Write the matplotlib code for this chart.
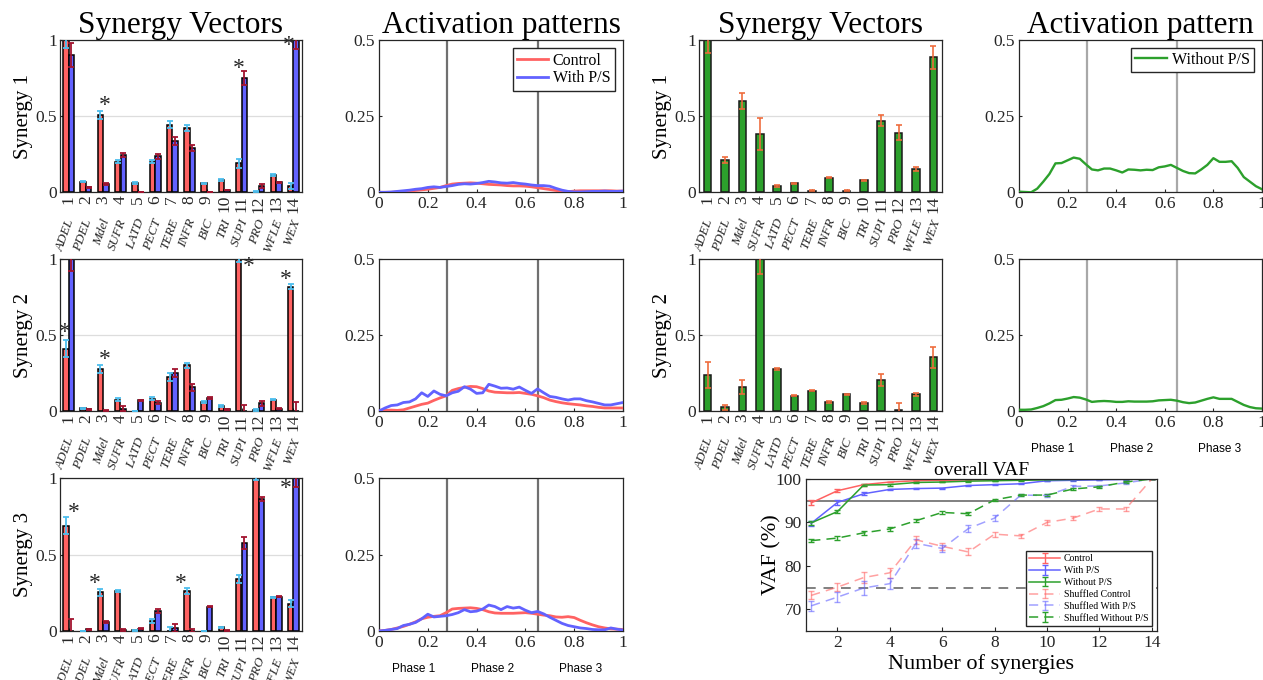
import numpy as np
import matplotlib
matplotlib.use('Agg')
import matplotlib.pyplot as plt
from matplotlib import transforms

plt.rcParams['font.family'] = ['Liberation Serif', 'DejaVu Serif']
plt.rcParams['axes.edgecolor'] = '#262626'
plt.rcParams['axes.linewidth'] = 0.9
plt.rcParams['xtick.direction'] = 'in'
plt.rcParams['ytick.direction'] = 'in'
plt.rcParams['xtick.color'] = '#262626'
plt.rcParams['ytick.color'] = '#262626'

# ---------------- data ----------------
muscles = ['ADEL', 'PDEL', 'Mdel', 'SUFR', 'LATD', 'PECT', 'TERE', 'INFR',
           'BIC', 'TRI', 'SUPI', 'PRO', 'WFLE', 'WEX']
muscle_ids = list(range(1, 15))

# Control vs With P/S synergy vectors (mean, error)
ctrl_w1 = [1.00, 0.07, 0.51, 0.20, 0.06, 0.20, 0.445, 0.42, 0.06, 0.08, 0.19, 0.005, 0.115, 0.04]
ctrl_e1 = [0.05, 0.005, 0.027, 0.01, 0.005, 0.01, 0.02, 0.02, 0.004, 0.005, 0.03, 0.005, 0.008, 0.018]
ps_w1 = [0.90, 0.033, 0.055, 0.245, 0.002, 0.236, 0.335, 0.29, 0.002, 0.015, 0.75, 0.04, 0.065, 1.00]
ps_e1 = [0.08, 0.004, 0.004, 0.015, 0.002, 0.015, 0.025, 0.02, 0.002, 0.003, 0.045, 0.015, 0.005, 0.06]

ctrl_w2 = [0.41, 0.018, 0.275, 0.075, 0.0, 0.08, 0.225, 0.30, 0.06, 0.035, 1.00, 0.005, 0.075, 0.82]
ctrl_e2 = [0.055, 0.004, 0.025, 0.008, 0.002, 0.01, 0.025, 0.018, 0.004, 0.006, 0.02, 0.005, 0.005, 0.015]
ps_w2 = [1.00, 0.01, 0.003, 0.015, 0.07, 0.055, 0.25, 0.155, 0.085, 0.012, 0.0, 0.05, 0.015, 0.0]
ps_e2 = [0.08, 0.003, 0.003, 0.015, 0.004, 0.012, 0.025, 0.02, 0.004, 0.004, 0.04, 0.015, 0.004, 0.06]

ctrl_w3 = [0.69, 0.0, 0.253, 0.262, 0.005, 0.066, 0.0, 0.262, 0.0, 0.025, 0.34, 1.00, 0.22, 0.18]
ctrl_e3 = [0.055, 0.002, 0.025, 0.008, 0.004, 0.012, 0.025, 0.018, 0.002, 0.004, 0.025, 0.01, 0.005, 0.02]
ps_w3 = [0.0, 0.01, 0.06, 0.005, 0.015, 0.13, 0.02, 0.003, 0.16, 0.002, 0.575, 0.865, 0.225, 1.00]
ps_e3 = [0.08, 0.003, 0.005, 0.008, 0.004, 0.012, 0.025, 0.012, 0.003, 0.002, 0.04, 0.015, 0.004, 0.06]

# significance stars: (muscle, height, x-offset)
stars1 = [(3, 0.57, 0.07), (11, 0.815, -0.13), (14, 0.965, -0.29)]
stars2 = [(1, 0.515, -0.23), (3, 0.34, 0.09), (11, 0.955, 0.40), (14, 0.865, -0.44)]
stars3 = [(1, 0.775, 0.27), (3, 0.31, -0.50), (8, 0.31, -0.53), (14, 0.935, -0.44)]

# Without P/S synergy vectors
wo_w1 = [1.00, 0.21, 0.60, 0.38, 0.042, 0.059, 0.011, 0.096, 0.01, 0.079, 0.47, 0.392, 0.151, 0.886]
wo_e1 = [0.085, 0.02, 0.05, 0.105, 0.008, 0.004, 0.003, 0.005, 0.003, 0.004, 0.035, 0.05, 0.012, 0.075]
wo_w2 = [0.235, 0.024, 0.16, 1.00, 0.279, 0.10, 0.134, 0.059, 0.11, 0.053, 0.202, 0.005, 0.11, 0.354]
wo_e2 = [0.085, 0.015, 0.045, 0.10, 0.006, 0.004, 0.004, 0.004, 0.004, 0.004, 0.04, 0.045, 0.01, 0.07]

# Activation patterns (normalized cycle time)
cycle = np.linspace(0, 1, 41)
act_ctrl1 = [0, 0, 0, 0.001, 0.002, 0.004, 0.006, 0.008, 0.010, 0.013, 0.016, 0.022, 0.027, 0.029,
             0.030, 0.031, 0.030, 0.028, 0.026, 0.025, 0.024, 0.022, 0.021, 0.021, 0.020, 0.018,
             0.015, 0.012, 0.009, 0.006, 0.003, 0.002, 0.004, 0.005, 0.005, 0.005, 0.005, 0.005,
             0.005, 0.004, 0.004]
act_ps1 = [0, 0, 0.001, 0.003, 0.005, 0.007, 0.010, 0.012, 0.016, 0.018, 0.016, 0.019, 0.022, 0.026,
           0.028, 0.027, 0.029, 0.032, 0.036, 0.034, 0.031, 0.030, 0.032, 0.029, 0.027, 0.024,
           0.022, 0.022, 0.020, 0.013, 0.007, 0.003, 0.001, 0.001, 0.002, 0.003, 0.003, 0.004,
           0.003, 0.003, 0.004]
act_ctrl2 = [0, 0.002, 0.003, 0.002, 0.004, 0.010, 0.016, 0.022, 0.026, 0.035, 0.043, 0.050, 0.068,
             0.074, 0.078, 0.081, 0.080, 0.074, 0.066, 0.062, 0.061, 0.060, 0.060, 0.061, 0.058,
             0.055, 0.050, 0.044, 0.036, 0.031, 0.027, 0.024, 0.022, 0.020, 0.017, 0.015, 0.012,
             0.010, 0.010, 0.010, 0.010]
act_ps2 = [0, 0.010, 0.018, 0.020, 0.028, 0.030, 0.040, 0.060, 0.048, 0.066, 0.055, 0.050, 0.060,
           0.065, 0.080, 0.072, 0.058, 0.060, 0.088, 0.082, 0.075, 0.076, 0.072, 0.079, 0.068,
           0.058, 0.073, 0.060, 0.048, 0.045, 0.040, 0.036, 0.040, 0.040, 0.034, 0.030, 0.025,
           0.020, 0.020, 0.024, 0.028]
act_ctrl3 = [0, 0.002, 0.005, 0.010, 0.015, 0.022, 0.030, 0.040, 0.045, 0.048, 0.050, 0.060, 0.072,
             0.074, 0.075, 0.076, 0.074, 0.070, 0.063, 0.059, 0.058, 0.058, 0.058, 0.059, 0.060,
             0.058, 0.055, 0.052, 0.050, 0.046, 0.045, 0.047, 0.044, 0.035, 0.027, 0.020, 0.014,
             0.010, 0.007, 0.006, 0.005]
act_ps3 = [0, 0.002, 0.005, 0.008, 0.018, 0.022, 0.028, 0.040, 0.055, 0.046, 0.048, 0.050, 0.054,
           0.060, 0.070, 0.063, 0.065, 0.072, 0.085, 0.080, 0.070, 0.080, 0.075, 0.078, 0.068,
           0.060, 0.064, 0.056, 0.045, 0.035, 0.025, 0.018, 0.014, 0.010, 0.008, 0.005, 0.004,
           0.004, 0.010, 0.006, 0.003]
act_wo1 = [0.002, 0.001, 0, 0.012, 0.035, 0.060, 0.095, 0.096, 0.105, 0.114, 0.110, 0.092, 0.075,
           0.072, 0.078, 0.078, 0.072, 0.065, 0.075, 0.074, 0.072, 0.074, 0.073, 0.082, 0.085,
           0.090, 0.080, 0.070, 0.063, 0.062, 0.075, 0.090, 0.112, 0.100, 0.100, 0.102, 0.080,
           0.050, 0.035, 0.020, 0.010]
act_wo2 = [0.004, 0.004, 0.005, 0.010, 0.016, 0.025, 0.036, 0.037, 0.041, 0.046, 0.044, 0.038, 0.030,
           0.032, 0.033, 0.032, 0.030, 0.030, 0.032, 0.031, 0.031, 0.031, 0.032, 0.035, 0.036,
           0.037, 0.034, 0.029, 0.026, 0.028, 0.034, 0.040, 0.045, 0.040, 0.040, 0.040, 0.030,
           0.020, 0.013, 0.009, 0.008]
phase_bounds = [0.28, 0.65]
phase_names = ['Phase 1', 'Phase 2', 'Phase 3']

# Overall VAF
n_syn = list(range(1, 15))
vaf_ctrl = [94.5, 97.3, 98.7, 99.3, 99.6, 99.7, 99.8, 99.85, 99.9, 99.95, 100, 100, 100, 100]
vaf_ctrl_e = [0.6, 0.3, 0.2, 0.1, 0.1, 0.1, 0.05, 0.05, 0.05, 0.05, 0.02, 0.02, 0.02, 0]
vaf_ps = [89.8, 94.6, 96.6, 97.6, 97.8, 97.9, 98.5, 98.7, 98.9, 99.6, 99.7, 99.8, 99.9, 100]
vaf_ps_e = [0.6, 0.5, 0.3, 0.2, 0.15, 0.1, 0.1, 0.1, 0.1, 0.05, 0.05, 0.05, 0.05, 0]
vaf_wo = [89.9, 92.5, 98.6, 98.7, 99.2, 99.3, 99.5, 99.6, 99.7, 99.8, 99.9, 99.95, 100, 100]
vaf_wo_e = [0.5, 0.3, 0.2, 0.2, 0.1, 0.1, 0.1, 0.05, 0.05, 0.05, 0.05, 0.02, 0.02, 0]
vaf_sh_ctrl = [73.2, 75.1, 77.3, 78.4, 86.0, 84.5, 83.2, 87.3, 86.9, 90.0, 91.0, 93.1, 93.1, 100]
vaf_sh_ctrl_e = [0.9, 1.0, 1.3, 1.2, 0.9, 0.8, 0.8, 0.6, 0.5, 0.5, 0.5, 0.4, 0.4, 0]
vaf_sh_ps = [70.8, 72.8, 74.9, 75.9, 85.2, 84.0, 88.6, 91.0, 96.3, 96.2, 98.3, 98.4, 99.1, 100]
vaf_sh_ps_e = [1.2, 1.2, 1.5, 1.2, 1.0, 0.9, 0.7, 0.7, 0.3, 0.3, 0.3, 0.3, 0.2, 0]
vaf_sh_wo = [85.8, 86.4, 87.6, 88.5, 90.4, 92.3, 92.0, 95.2, 96.3, 96.3, 97.7, 98.2, 99.3, 100]
vaf_sh_wo_e = [0.4, 0.5, 0.4, 0.5, 0.4, 0.3, 0.4, 0.3, 0.2, 0.2, 0.3, 0.3, 0.2, 0]
vaf_thresholds = [95, 75]

# ---------------- styles ----------------
RED = '#FF6262'
BLUE = '#6262FF'
GREEN = '#2CA02C'
CYAN = '#4DBEEE'
DRED = '#A2142F'
ORANGE = '#EE6A3A'
TICK_FS = 12.5
TITLE_FS = 22.5

W, H = 1263, 680
fig = plt.figure(figsize=(W / 100, H / 100), dpi=100)


def px_axes(x0, y0, x1, y1):
    return fig.add_axes([x0 / W, 1 - y1 / H, (x1 - x0) / W, (y1 - y0) / H])


cols = [(60, 302), (379, 623), (699, 942), (1019, 1263)]
rows = [(40, 192.3), (259.3, 411), (478.3, 631)]


def muscle_names(ax):
    off = transforms.ScaledTranslation(3 / 100, -27 / 100, fig.dpi_scale_trans)
    tr = transforms.blended_transform_factory(ax.transData, ax.transAxes) + off
    for i, name in zip(muscle_ids, muscles):
        ax.text(i, 0, name, transform=tr, rotation=70, rotation_mode='anchor',
                ha='right', va='center', fontsize=9.5, style='italic', color='#262626')


def bar_axes_common(ax, ylabel, label_x):
    ax.set_xlim(0.5, 14.5)
    ax.set_ylim(0, 1)
    ax.set_yticks([0, 0.5, 1])
    ax.set_yticklabels(['0', '0.5', '1'], fontsize=TICK_FS)
    ax.set_xticks(muscle_ids)
    ax.set_xticklabels([str(i) for i in muscle_ids], rotation=90, fontsize=TICK_FS)
    ax.tick_params(length=2.5, pad=2)
    ax.yaxis.grid(True, color='#dddddd', lw=0.9)
    ax.set_axisbelow(True)
    ax.set_ylabel(ylabel, fontsize=15)
    ax.yaxis.set_label_coords(label_x, 0.5)
    muscle_names(ax)


def pair_panel(ax, a, ae, b, be, stars, ylabel):
    x = np.array(muscle_ids)
    ax.bar(x - 0.16, a, width=0.32, color=RED, edgecolor='k', linewidth=1.1, zorder=2)
    ax.bar(x + 0.16, b, width=0.32, color=BLUE, edgecolor='k', linewidth=1.1, zorder=2)
    ax.errorbar(x - 0.16, a, yerr=ae, fmt='none', ecolor=CYAN, capsize=2.5, elinewidth=1.3,
                capthick=1.3, zorder=3)
    ax.errorbar(x + 0.16, b, yerr=be, fmt='none', ecolor=DRED, capsize=2.5, elinewidth=1.3,
                capthick=1.3, zorder=3)
    for m, h, dx in stars:
        ax.text(m + dx, h, '*', ha='center', va='center', fontsize=17, color='#262626', zorder=4)
    bar_axes_common(ax, ylabel, -0.112)


def single_panel(ax, v, e, ylabel):
    x = np.array(muscle_ids)
    ax.bar(x, v, width=0.44, color=GREEN, edgecolor='#1a1a1a', linewidth=1.1, zorder=2)
    ax.errorbar(x, v, yerr=e, fmt='none', ecolor=ORANGE, capsize=2.5, elinewidth=1.3,
                capthick=1.3, alpha=0.9, zorder=3)
    bar_axes_common(ax, ylabel, -0.110)


def act_common(ax, vcolor, phases=False):
    ax.set_xlim(0, 1)
    ax.set_ylim(0, 0.5)
    ax.set_yticks([0, 0.25, 0.5])
    ax.set_yticklabels(['0', '0.25', '0.5'], fontsize=TICK_FS)
    ax.set_xticks([0, 0.2, 0.4, 0.6, 0.8, 1])
    ax.set_xticklabels(['0', '0.2', '0.4', '0.6', '0.8', '1'], fontsize=TICK_FS)
    ax.tick_params(length=2.5, pad=3)
    for b in phase_bounds:
        ax.axvline(b, color=vcolor, lw=1.6, zorder=1)
    if phases:
        edges = [0] + phase_bounds + [1]
        tr = transforms.blended_transform_factory(ax.transData, ax.transAxes)
        for k, name in enumerate(phase_names):
            ax.text((edges[k] + edges[k + 1]) / 2, -0.25, name, transform=tr,
                    ha='center', va='center', fontsize=8.5, family='Liberation Sans')


# ---- column 1: Control vs With P/S synergy vectors ----
pair_data = [(ctrl_w1, ctrl_e1, ps_w1, ps_e1, stars1),
             (ctrl_w2, ctrl_e2, ps_w2, ps_e2, stars2),
             (ctrl_w3, ctrl_e3, ps_w3, ps_e3, stars3)]
for r, (a, ae, b, be, st) in enumerate(pair_data):
    ax = px_axes(cols[0][0], rows[r][0], cols[0][1], rows[r][1])
    pair_panel(ax, a, ae, b, be, st, 'Synergy %d' % (r + 1))
    if r == 0:
        ax.set_title('Synergy Vectors', fontsize=TITLE_FS, pad=5)

# ---- column 2: activation patterns ----
act_pairs = [(act_ctrl1, act_ps1), (act_ctrl2, act_ps2), (act_ctrl3, act_ps3)]
for r, (c, p) in enumerate(act_pairs):
    ax = px_axes(cols[1][0], rows[r][0], cols[1][1], rows[r][1])
    ax.plot(cycle, c, color=RED, lw=2.0, label='Control', zorder=3)
    ax.plot(cycle, p, color=BLUE, lw=2.0, label='With P/S', zorder=3)
    act_common(ax, '#707070', phases=(r == 2))
    if r == 0:
        ax.set_title('Activation patterns', fontsize=TITLE_FS, pad=5)
        ax.legend(loc='upper right', fontsize=11.5, frameon=True, fancybox=False,
                  edgecolor='#262626', handlelength=1.9, borderpad=0.3, labelspacing=0.1,
                  handletextpad=0.3, borderaxespad=0.5, framealpha=1)

# ---- column 3: Without P/S synergy vectors ----
wo_data = [(wo_w1, wo_e1), (wo_w2, wo_e2)]
for r, (v, e) in enumerate(wo_data):
    ax = px_axes(cols[2][0], rows[r][0], cols[2][1], rows[r][1])
    single_panel(ax, v, e, 'Synergy %d' % (r + 1))
    if r == 0:
        ax.set_title('Synergy Vectors', fontsize=TITLE_FS, pad=5)

# ---- column 4: Without P/S activation ----
wo_acts = [act_wo1, act_wo2]
for r, v in enumerate(wo_acts):
    ax = px_axes(cols[3][0], rows[r][0], cols[3][1] - 1, rows[r][1])
    ax.plot(cycle, v, color=GREEN, lw=1.7, label='Without P/S', zorder=3)
    act_common(ax, '#a8a8a8', phases=(r == 1))
    if r == 0:
        ax.set_title('Activation pattern', fontsize=TITLE_FS, pad=5)
        ax.legend(loc='upper right', fontsize=11.5, frameon=True, fancybox=False,
                  edgecolor='#262626', handlelength=2.0, borderpad=0.25,
                  handletextpad=0.3, borderaxespad=0.5, framealpha=1)

# ---- overall VAF ----
ax = px_axes(806, 479, 1157, 631)
series = [
    (vaf_ctrl, vaf_ctrl_e, RED, '-', 1.0, 'Control'),
    (vaf_ps, vaf_ps_e, BLUE, '-', 1.0, 'With P/S'),
    (vaf_wo, vaf_wo_e, GREEN, '-', 1.0, 'Without P/S'),
    (vaf_sh_ctrl, vaf_sh_ctrl_e, RED, '--', 0.6, 'Shuffled Control'),
    (vaf_sh_ps, vaf_sh_ps_e, BLUE, '--', 0.6, 'Shuffled With P/S'),
    (vaf_sh_wo, vaf_sh_wo_e, GREEN, '--', 1.0, 'Shuffled Without P/S'),
]
ax.axhline(vaf_thresholds[0], color='#808080', lw=1.4, zorder=1)
ax.axhline(vaf_thresholds[1], color='#808080', lw=1.4, ls=(0, (5, 4)), zorder=1)
for vals, err, col, ls, al, lab in series:
    ax.errorbar(n_syn, vals, yerr=err, color=col, ls=ls, lw=1.1, capsize=2.5,
                elinewidth=1.0, alpha=al, label=lab, dashes=(6, 4) if ls == '--' else None)
ax.set_xlim(0.8, 14.2)
ax.set_ylim(65, 100)
ax.set_xticks([2, 4, 6, 8, 10, 12, 14])
ax.set_xticklabels(['2', '4', '6', '8', '10', '12', '14'], fontsize=TICK_FS)
ax.set_yticks([70, 80, 90, 100])
ax.set_yticklabels(['70', '80', '90', '100'], fontsize=TICK_FS)
ax.tick_params(length=3, pad=3)
ax.set_xlabel('Number of synergies', fontsize=16, labelpad=2)
ax.set_ylabel('VAF (%)', fontsize=16)
ax.yaxis.set_label_coords(-0.07, 0.5)
ax.set_title('overall VAF', fontsize=14, pad=3)
ax.legend(loc='lower right', fontsize=7, frameon=True, fancybox=False, edgecolor='#262626',
          framealpha=1, handlelength=3.2, borderpad=0.35, labelspacing=0.3,
          handletextpad=0.4, borderaxespad=0.5)

fig.savefig('out.png', dpi=100)
